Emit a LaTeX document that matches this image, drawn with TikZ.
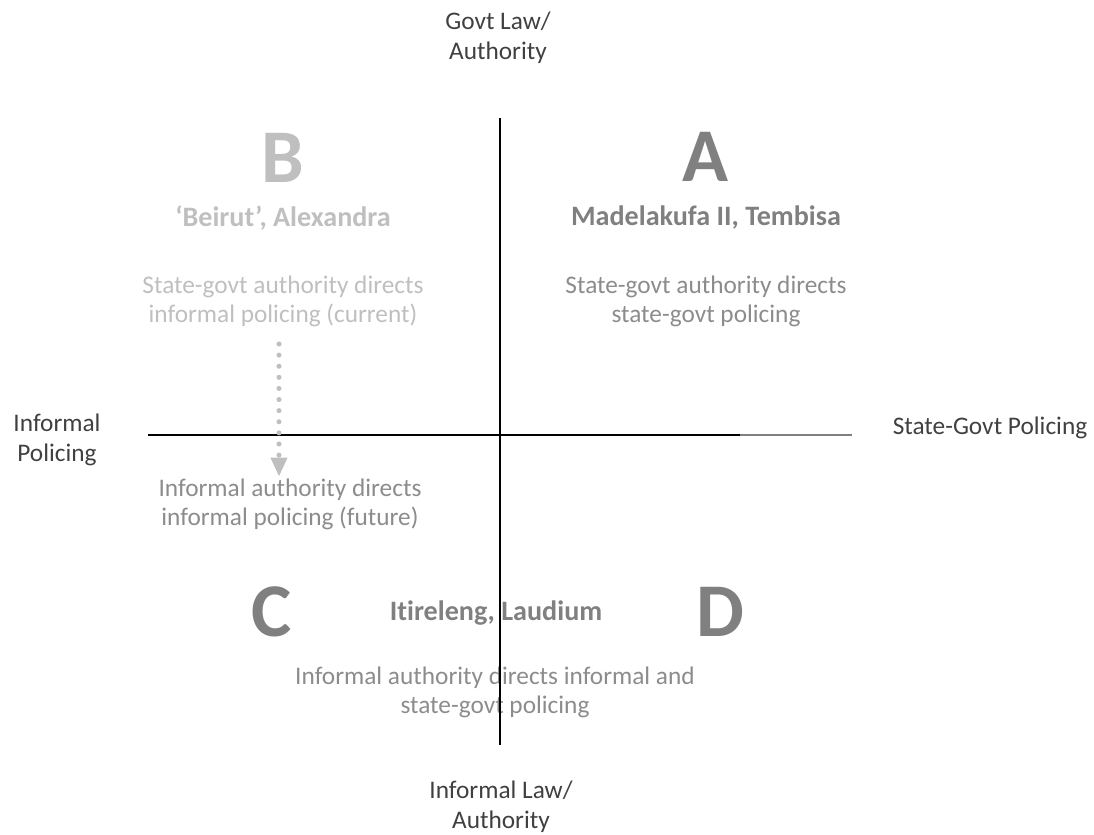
\documentclass[tikz,border=0pt]{standalone}
\usepackage{fontspec}
\setmainfont[Ligatures=NoCommon]{Carlito}
\usepackage{xcolor}
\usetikzlibrary{arrows.meta}

\definecolor{axistext}{HTML}{404040}
\definecolor{midgray}{HTML}{808080}
\definecolor{descgray}{HTML}{8C8C8C}
\definecolor{paleg}{HTML}{BFBFBF}

\tikzset{
  axislabel/.style={align=center, text=axistext, font=\fontsize{18}{21}\selectfont},
  bigletter/.style={font=\fontsize{54}{54}\selectfont\bfseries},
  place/.style={font=\fontsize{20}{22}\selectfont\bfseries},
  desc/.style={align=center, font=\fontsize{18}{20.5}\selectfont},
  dotarrow/.style={paleg, line width=3.6pt, line cap=round, dash pattern=on 0pt off 7.9pt,
    -{Triangle[width=12pt, length=13pt, line width=0.4pt]}},
}

\begin{document}
\begin{tikzpicture}[x=0.025cm, y=-0.025cm]
  \useasboundingbox (0,0) rectangle (1094,835);

  % axis labels
  \node[axislabel] (govt)     at (498,38)  {Govt Law/\\Authority};
  \node[axislabel] (inflaw)   at (501,807) {Informal Law/\\Authority};
  \node[axislabel] (infpol)   at (57,440)  {Informal\\Policing};
  \node[axislabel] (statepol) at (990,428) {State-Govt Policing};

  % quadrant B
  \node[bigletter, text=paleg] (B)      at (283,158) {B};
  \node[place, text=paleg]     (beirut) at (283,218) {‘Beirut’, Alexandra};
  \node[desc, text=paleg]      (bdesc)  at (283,301) {State-govt authority directs\\informal policing (current)};

  % quadrant A
  \node[bigletter, text=midgray] (A)     at (706,157) {A};
  \node[place, text=midgray]     (madel) at (706,218) {Madelakufa II, Tembisa};
  \node[desc, text=descgray]     (adesc) at (706,301) {State-govt authority directs\\state-govt policing};

  % quadrants C and D
  \node[desc, text=descgray]     (cfut)  at (290,504) {Informal authority directs\\informal policing (future)};
  \node[bigletter, text=midgray] (C)     at (272,612) {C};
  \node[place, text=midgray]     (itir)  at (496,613) {Itireleng, Laudium};
  \node[bigletter, text=midgray] (D)     at (720,612) {D};
  \node[desc, text=descgray]     (cdesc) at (495,692) {Informal authority directs informal and\\state-govt policing};

  % axes
  \coordinate (top)    at (500,118);
  \coordinate (bottom) at (500,745);
  \coordinate (left)   at (148,435);
  \coordinate (mid)    at (740,435);
  \coordinate (right)  at (852,435);
  \draw[line width=1.3pt] (top) -- (bottom);
  \draw[line width=1.3pt] (left) -- (mid);
  \draw[line width=1.3pt, midgray] (mid) -- (right);

  % current -> future
  \coordinate (curstart) at (279,344);
  \coordinate (futtip)   at (279,476);
  \draw[dotarrow] (curstart) -- (futtip);
\end{tikzpicture}
\end{document}
